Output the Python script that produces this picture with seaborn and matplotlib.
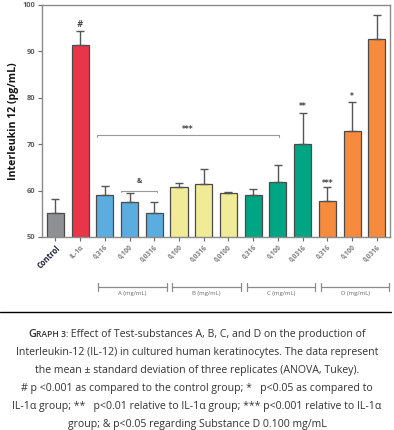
import numpy as np
import pandas as pd
import seaborn as sns
import matplotlib.pyplot as plt
from matplotlib.lines import Line2D

# values
bar_keys = ['ctrl', 'il1a', 'A1', 'A2', 'A3', 'B1', 'B2', 'B3',
            'C1', 'C2', 'C3', 'D1', 'D2', 'D3']
tick_labels = ['Control', 'IL-1α', '0,316', '0,100', '0,0316',
               '0,100', '0,0316', '0,0100', '0,316', '0,100', '0,0316',
               '0,316', '0,100', '0,0316']
means = [55.2, 91.4, 59.05, 57.5, 55.2, 60.7, 61.4, 59.5,
         59.05, 61.9, 70.0, 57.8, 72.8, 92.7]
sds = [3.0, 3.1, 1.95, 1.9, 2.3, 1.0, 3.2, 0.3,
       1.25, 3.6, 6.8, 2.9, 6.2, 5.1]
bar_colors = ['#8e9094', '#ea3549', '#5bade0', '#5bade0', '#5bade0',
              '#efeb96', '#efeb96', '#efeb96', '#00a684', '#00a684', '#00a684',
              '#f68b3e', '#f68b3e', '#f68b3e']
groups = ['A (mg/mL)', 'B (mg/mL)', 'C (mg/mL)', 'D (mg/mL)']
group_start = [2, 5, 8, 11]
# significance marks: (bar index, y value, text)
marks = [(1, 95.7, '#'), (10, 78.2, '**'), (12, 80.2, '*'), (11, 61.6, '***')]

caption = [
    'Interleukin-12 (IL-12) in cultured human keratinocytes. The data represent',
    'the mean ± standard deviation of three replicates (ANOVA, Tukey).',
    '# p <0.001 as compared to the control group; *   p<0.05 as compared to',
    'IL-1α group; **   p<0.01 relative to IL-1α group; *** p<0.001 relative to IL-1α',
    'group; & p<0.05 regarding Substance D 0.100 mg/mL',
]

sns.set_style('white')
plt.rcParams['font.family'] = ['Open Sans', 'DejaVu Sans']

df = pd.DataFrame({'key': bar_keys, 'mean': means})

W, H = 394, 430
fig = plt.figure(figsize=(W / 100, H / 100), dpi=100)
ax = fig.add_axes([42 / W, 1 - 237 / H, (390 - 42) / W, (237 - 5) / H])

sns.barplot(data=df, x='key', y='mean', hue='key',
            palette=dict(zip(bar_keys, bar_colors)), dodge=False,
            saturation=1, width=0.69, edgecolor='#4a4a4a', linewidth=0.9,
            legend=False, ax=ax)
x = np.arange(len(means))
ax.errorbar(x, means, yerr=[np.zeros(len(sds)), sds], fmt='none',
            ecolor='#555555', elinewidth=1.0, capsize=2.8, capthick=1.0)

ax.set_ylim(50, 100)
ax.set_xlim(-0.54, 13.53)
ax.set_yticks([50, 60, 70, 80, 90, 100])
ax.set_xticks(x)
ax.set_xticklabels(tick_labels, rotation=45, ha='right',
                   rotation_mode='anchor', fontsize=4.8, color='#7a7a7a',
                   fontweight='bold')
ax.get_xticklabels()[0].set_color('#1c1c3a')
ax.get_xticklabels()[0].set_fontsize(5.5)
for t in ax.get_yticklabels():
    t.set_fontsize(5.3)
    t.set_color('#5a5a5a')
    t.set_fontweight('bold')
ax.tick_params(axis='both', length=3, width=0.8, color='#6a6a6a',
               pad=2, bottom=True, left=True)
for s in ax.spines.values():
    s.set_color('#8a8a8a')
    s.set_linewidth(1.0)
ax.set_xlabel('')
ax.set_ylabel('Interleukin 12 (pg/mL)', fontsize=7.6, fontweight='bold',
              color='#111111')
ax.yaxis.set_label_coords(-(42 - 19) / 348, 0.5)

# significance marks
for xi, yv, txt in marks:
    ax.text(xi, yv, txt, ha='center', va='center', fontsize=5.5,
            color='#444444', fontweight='bold', family='DejaVu Sans')
# *** bracket
ax.plot([1.67, 1.67, 9.05, 9.05], [71.6, 72.0, 72.0, 71.6],
        color='#9a9a9a', lw=0.8)
ax.text(5.36, 73.2, '***', ha='center', va='center', fontsize=5.5,
        color='#444444', fontweight='bold', family='DejaVu Sans')
# & bracket
ax.plot([2.64, 2.64, 4.12, 4.12], [59.6, 59.9, 59.9, 59.6],
        color='#9a9a9a', lw=0.8)
ax.text(3.38, 61.9, '&', ha='center', va='center', fontsize=5,
        color='#444444', fontweight='bold')

# group brackets below the axis
tr = ax.get_xaxis_transform()
yb = (237 - 287) / 232
for g, s in zip(groups, group_start):
    x0, x1 = s - 0.27, s + 2.5
    ax.plot([x0, x1], [yb, yb], color='#8a8a8a', lw=0.9,
            transform=tr, clip_on=False)
    for xe in (x0, x1):
        ax.plot([xe, xe], [yb - 0.018, yb + 0.018], color='#8a8a8a',
                lw=0.9, transform=tr, clip_on=False)
    ax.text((x0 + x1) / 2, (237 - 294) / 232, g, ha='center', va='center',
            fontsize=4.3, color='#6a6a6a', transform=tr)

# separator line and caption
fig.add_artist(Line2D([0, 391 / W], [1 - 312 / H] * 2, color='black', lw=1.0))

fig.canvas.draw()
renderer = fig.canvas.get_renderer()
pieces = [('G', 7.8, 'semibold'), ('RAPH 3:', 6.2, 'semibold'),
          (' Effect of Test-substances A, B, C, and D on the production of',
           7.6, 'normal')]
texts = []
for txt, fs, fw in pieces:
    t = fig.text(0, 1 - 337 / H, txt, fontsize=fs, fontweight=fw,
                 color='#333333', va='baseline')
    texts.append(t)
widths = [t.get_window_extent(renderer).width for t in texts]
xpos = (W - sum(widths)) / 2
for t, w in zip(texts, widths):
    t.set_x(xpos / W)
    xpos += w

for i, line in enumerate(caption):
    fig.text(0.5, 1 - (352.5 + 18 * i) / H, line, ha='center', va='center',
             fontsize=7.6, color='#333333')

fig.savefig('out.png', dpi=100)
